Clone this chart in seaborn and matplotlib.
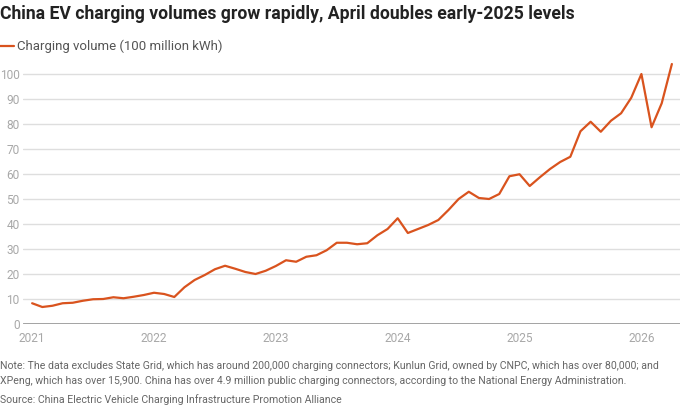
import seaborn as sns
import matplotlib.pyplot as plt
import numpy as np
import pandas as pd

# monthly charging volume, 100 million kWh, Jan 2021 - Apr 2026
vol_2021 = [8.3, 6.8, 7.3, 8.3, 8.5, 9.3, 9.9, 10.0, 10.7, 10.3, 10.9, 11.6]
vol_2022 = [12.5, 12.0, 10.8, 14.7, 17.6, 19.6, 21.9, 23.3, 22.1, 20.8, 20.0, 21.3]
vol_2023 = [23.2, 25.5, 24.9, 26.9, 27.5, 29.5, 32.5, 32.5, 31.9, 32.3, 35.5, 38.0]
vol_2024 = [42.3, 36.4, 38.0, 39.6, 41.6, 45.6, 50.0, 52.9, 50.4, 50.0, 52.0, 59.1]
vol_2025 = [59.9, 55.2, 58.7, 62.0, 64.8, 66.9, 77.1, 80.9, 76.9, 81.3, 84.3, 90.5]
vol_2026 = [100.0, 78.7, 88.3, 104.0]
years = ["2021", "2022", "2023", "2024", "2025", "2026"]
yticks = list(range(0, 101, 10))

volume = vol_2021 + vol_2022 + vol_2023 + vol_2024 + vol_2025 + vol_2026
df = pd.DataFrame({"month": np.arange(len(volume)), "volume": volume})

ORANGE = "#d9531e"

sns.set_theme(style="white")
plt.rcParams["font.family"] = ["Roboto", "DejaVu Sans"]

fig = plt.figure(figsize=(6.8, 4.07), dpi=100)
ax = fig.add_axes([23 / 680, 83 / 407, 657 / 680, 265 / 407])

for v in yticks[1:]:
    ax.axhline(v, color="#dedede", lw=1, zorder=0)
ax.axhline(0, color="#9a9a9a", lw=2, zorder=1)

sns.lineplot(data=df, x="month", y="volume", ax=ax, color=ORANGE, lw=1.6, zorder=3)

ax.set_xlim(-0.9, 63.8)
ax.set_ylim(0, 106)
ax.set_xticks([12 * i for i in range(len(years))])
ax.set_xticklabels(years)
ax.set_yticks(yticks)
ax.tick_params(axis="both", length=0, labelsize=8.6, labelcolor="#a8a8a8")
ax.tick_params(axis="y", pad=2.5)
ax.tick_params(axis="x", pad=6)
ax.set_xlabel("")
ax.set_ylabel("")
for s in ax.spines.values():
    s.set_visible(False)

fig.text(0.0, 1 - 14 / 407, "China EV charging volumes grow rapidly, April doubles early-2025 levels",
         fontsize=12.7, fontweight="bold", color="#222222", va="center", ha="left")
fig.add_artist(plt.Line2D([0, 14 / 680], [1 - 46 / 407] * 2, color=ORANGE, lw=1.6))
fig.text(17 / 680, 1 - 46 / 407, "Charging volume (100 million kWh)",
         fontsize=9.5, color="#555555", va="center", ha="left")

note_style = dict(fontsize=7.6, color="#666666", va="center", ha="left")
fig.text(0.0, 1 - 366 / 407,
         "Note: The data excludes State Grid, which has around 200,000 charging connectors; Kunlun Grid, owned by CNPC, which has over 80,000; and",
         **note_style)
fig.text(0.0, 1 - 381 / 407,
         "XPeng, which has over 15,900. China has over 4.9 million public charging connectors, according to the National Energy Administration.",
         **note_style)
fig.text(0.0, 1 - 400 / 407, "Source: China Electric Vehicle Charging Infrastructure Promotion Alliance",
         **note_style)

fig.savefig("out.png", dpi=100)
